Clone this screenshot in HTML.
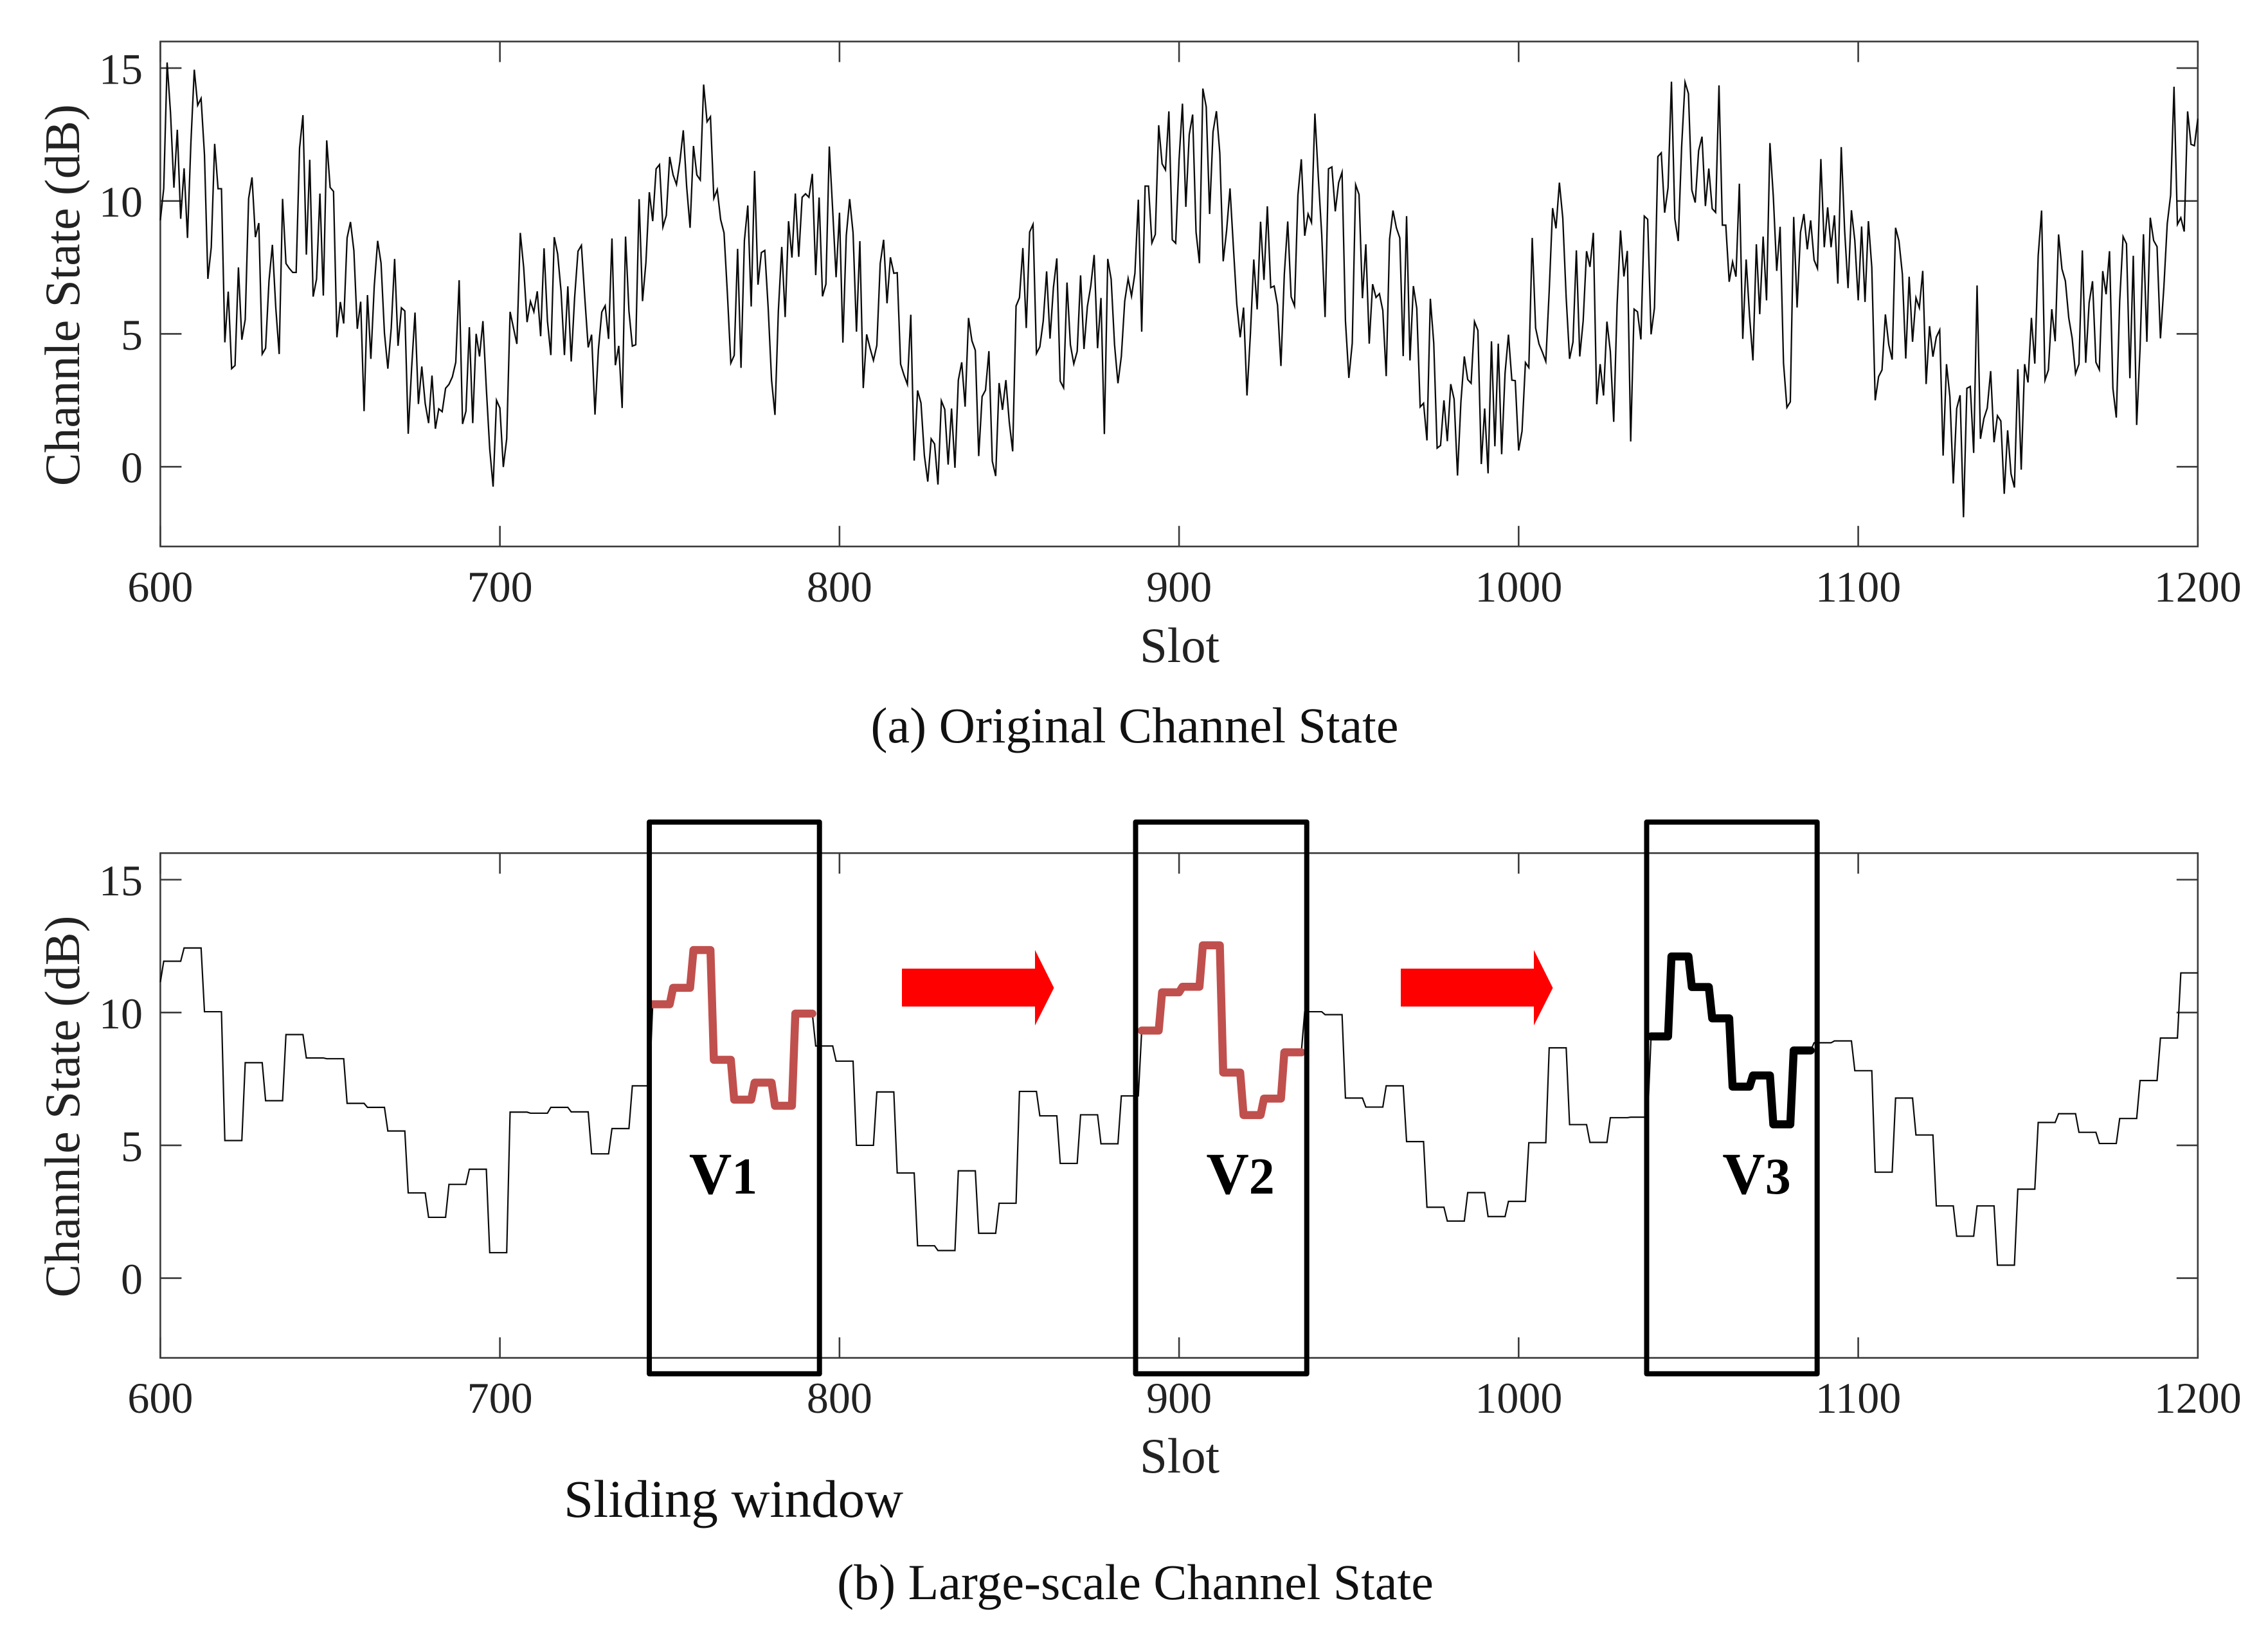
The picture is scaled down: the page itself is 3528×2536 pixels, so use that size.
<!DOCTYPE html>
<html lang="en">
<head>
<meta charset="utf-8">
<title>Channel State Charts</title>
<style>
html,body{margin:0;padding:0;background:#fff;}
svg{display:block;}
text{font-family:"Liberation Serif","Times New Roman",serif;fill:#222;}
</style>
</head>
<body>
<svg id="figure" xmlns="http://www.w3.org/2000/svg" width="3528" height="2536" viewBox="0 0 3528 2536">
  <rect x="0" y="0" width="3528" height="2536" fill="#fff"/>
  <g id="panel-a"></g>
  <g id="panel-b"></g>
  <g id="overlay"></g>
  <text x="1765" y="1155" font-size="78" text-anchor="middle" style="fill:#111">(a) Original Channel State</text>
  <text x="877" y="2360" font-size="83" style="fill:#111">Sliding window</text>
  <text x="1766" y="2488" font-size="78" text-anchor="middle" style="fill:#111">(b) Large-scale Channel State</text>
</svg>
<script>
const xTicks = [600,700,800,900,1000,1100,1200];
const yTicks = [0,5,10,15];
const xDomain = [600,1200];
const yDomain = [-3,16];
const startSlot = 600;
const blockSlots = 6;
const seriesOriginal = [
9.27,10.47,15.21,13.32,10.50,12.68,9.33,11.23,8.61,12.18,14.94,13.60,13.86,11.74,7.07,8.26,12.15,10.46,10.46,4.68,
6.59,3.69,3.81,7.50,4.78,5.54,10.09,10.89,8.64,9.17,4.24,4.46,6.99,8.35,5.98,4.24,10.08,7.65,7.46,7.31,
7.31,11.99,13.23,7.98,11.55,6.40,7.06,10.28,6.44,12.28,10.51,10.36,4.87,6.20,5.39,8.61,9.21,8.13,5.19,6.21,
2.09,6.46,4.06,6.80,8.50,7.66,5.03,3.69,5.22,7.82,4.55,5.98,5.86,1.24,3.71,5.80,2.36,3.77,2.38,1.64,
3.43,1.43,2.18,2.07,2.95,3.10,3.38,3.93,7.02,1.61,2.09,5.25,1.64,5.00,4.15,5.48,2.95,0.67,-0.75,2.50,
2.21,-0.01,1.05,5.83,5.22,4.62,8.80,7.50,5.44,6.22,5.83,6.60,4.91,8.22,5.48,4.20,8.64,8.01,6.61,4.20,
6.79,3.96,6.36,8.11,8.33,6.36,4.49,4.97,1.96,4.40,5.82,6.06,4.81,8.59,3.82,4.55,2.21,8.66,5.86,4.54,
4.59,10.07,6.23,7.69,10.33,9.24,11.21,11.37,9.02,9.46,11.66,10.98,10.62,11.48,12.66,10.53,8.99,12.07,10.98,10.79,
14.38,12.98,13.17,10.10,10.43,9.30,8.80,6.49,3.90,4.19,8.20,3.72,8.51,9.83,6.03,11.13,6.85,8.06,8.14,5.98,
3.26,1.95,5.86,8.27,5.63,9.24,7.87,10.28,7.90,10.14,10.27,10.14,11.02,7.21,10.13,6.41,6.87,12.05,9.65,7.13,
9.56,4.67,8.70,10.07,8.80,5.08,8.49,2.96,4.98,4.46,4.00,4.57,7.65,8.54,6.15,7.88,7.28,7.30,3.86,3.45,
3.10,5.72,0.23,2.87,2.40,0.42,-0.56,1.05,0.86,-0.67,2.48,2.16,0.08,2.19,-0.04,3.26,3.93,2.26,5.60,4.74,
4.38,0.40,2.64,2.88,4.35,0.21,-0.35,3.15,2.14,3.26,1.68,0.58,6.05,6.36,8.23,5.22,8.83,9.12,4.26,4.51,
5.48,7.35,4.82,6.74,7.84,3.22,2.97,6.93,4.59,3.87,4.34,7.20,4.43,6.03,6.80,7.97,4.46,6.35,1.23,7.82,
7.06,4.59,3.14,4.15,6.23,7.08,6.42,7.28,10.05,5.08,10.56,10.56,8.42,8.74,12.85,11.40,11.17,13.37,8.54,8.41,
11.55,13.66,9.78,12.50,13.25,8.83,7.66,14.23,13.54,9.51,12.60,13.38,11.80,7.73,8.89,10.47,8.26,6.11,4.87,5.99,
2.68,4.97,7.80,5.92,9.22,7.03,9.80,6.74,6.80,6.08,3.79,7.25,9.23,6.39,6.05,10.22,11.57,8.69,9.51,9.19,
13.29,10.91,8.76,5.63,11.21,11.28,9.61,10.69,11.08,5.48,3.34,4.65,10.61,10.24,6.34,8.37,4.63,6.87,6.37,6.51,
5.88,3.41,8.57,9.64,8.99,8.61,4.16,9.43,4.00,6.80,5.96,2.25,2.39,0.99,6.32,4.65,0.70,0.80,2.50,0.96,
3.11,2.54,-0.33,2.44,4.15,3.28,3.14,5.46,5.13,0.10,2.19,-0.25,4.72,0.77,4.63,0.47,3.52,4.97,3.26,3.24,
0.61,1.34,3.92,3.73,8.61,5.22,4.62,4.31,3.96,6.61,9.73,8.97,10.69,9.36,6.36,4.06,4.69,8.14,4.15,5.48,
8.11,7.52,8.80,2.35,3.86,2.68,5.46,4.34,1.69,6.11,8.89,7.16,8.12,0.95,5.93,5.83,4.79,9.43,9.31,4.98,
5.98,11.67,11.81,9.56,10.50,14.49,9.33,8.49,12.05,14.47,14.04,10.41,9.94,11.89,12.42,9.81,11.22,9.71,9.57,14.35,
9.09,9.09,6.96,7.71,7.15,10.65,4.81,7.80,5.67,4.00,8.37,5.74,8.66,6.26,12.18,10.16,7.37,9.03,3.90,2.23,
2.44,9.40,5.99,8.82,9.51,8.18,9.27,7.78,7.46,11.58,8.26,9.76,8.26,9.46,6.89,12.03,8.89,6.72,9.65,8.51,
6.26,9.04,6.20,9.24,7.50,2.50,3.39,3.64,5.73,4.59,4.03,8.99,8.49,7.25,4.07,7.15,4.70,6.36,5.98,7.37,
3.11,5.29,4.14,4.88,5.15,0.42,3.86,2.63,-0.63,2.19,2.69,-1.90,2.95,3.02,0.52,6.82,1.05,1.81,2.21,3.60,
0.92,1.92,1.72,-1.02,1.37,-0.27,-0.78,3.67,-0.11,3.86,3.17,5.60,3.88,7.94,9.64,3.26,3.64,5.93,4.72,8.74,
7.44,6.99,5.60,4.84,3.50,3.86,8.14,3.91,6.17,6.98,3.93,3.65,7.36,6.49,8.11,2.95,1.85,6.23,8.66,8.39,
3.33,7.94,1.57,4.46,8.75,4.70,9.37,8.51,8.28,4.83,6.74,9.14,10.22,14.30,9.12,9.37,8.85,13.37,12.13,12.08,
13.10
];
const initialLargeScale = 11.14;
const seriesLargeScale = [
11.93,12.43,10.03,5.18,8.11,6.68,9.17,8.29,8.26,6.58,
6.43,5.54,3.21,2.29,3.53,4.10,0.96,6.25,6.21,6.43,
6.26,4.68,5.63,7.24,10.31,10.93,12.35,8.22,6.72,7.36,
6.49,9.96,8.74,8.17,5.00,7.01,3.96,1.22,1.04,4.04,
1.69,2.82,7.03,6.11,4.32,6.15,5.06,6.86,9.32,10.76,
10.97,12.53,7.74,6.14,6.76,8.50,10.03,9.92,6.78,6.44,
7.24,5.14,2.67,2.15,3.22,2.32,2.89,5.10,8.67,5.78,
5.11,6.04,6.06,9.10,12.11,10.96,9.78,7.21,7.63,5.79,
8.57,8.86,8.93,7.81,3.99,6.78,5.39,2.72,1.58,2.72,
0.49,3.35,5.86,6.19,5.49,5.07,6.01,7.44,9.04,11.49
];
const windowNames = ["V1","V2","V3"];
const windowFirstBlock = [24,48,73];
const windowBlockCount = 8;
const windowSlotStart = [744,887.2,1037.7];
const windowSlotEnd = [794.1,937.6,1087.9];
const windowLabelSlot = [755.7,908,1060];
const windowColors = ["#c0504d","#c0504d","#000000"];
const NS = "http://www.w3.org/2000/svg";

function scaleLinear(domain, range) {
  return function (v) {
    return range[0] + (v - domain[0]) * (range[1] - range[0]) / (domain[1] - domain[0]);
  };
}
const axisLeft = 249.4, axisRight = 3418.8;
const xScale = scaleLinear(xDomain, [axisLeft, axisRight]);
const panelA = { top: 64.6, bottom: 850.2, xLabelY: 936, slotY: 1030 };
const panelB = { top: 1327.3, bottom: 2112.6, xLabelY: 2198, slotY: 2291 };

function mk(tag, attrs, parent) {
  const el = document.createElementNS(NS, tag);
  for (const k in attrs) el.setAttribute(k, attrs[k]);
  parent.appendChild(el);
  return el;
}

function drawAxes(group, box, yScale, prefix) {
  const frame = mk('rect', { x: axisLeft, y: box.top, width: axisRight - axisLeft, height: box.bottom - box.top, fill: 'none', stroke: '#3a3a3a', 'stroke-width': 2.6 }, group);
  
  
  xTicks.forEach(function (t) {
    const x = xScale(t);
    const low = mk('line', { x1: x, x2: x, y1: box.bottom, y2: box.bottom - 32, stroke: '#3a3a3a', 'stroke-width': 2.6 }, group);
    
    
    const high = mk('line', { x1: x, x2: x, y1: box.top, y2: box.top + 32, stroke: '#3a3a3a', 'stroke-width': 2.6 }, group);
    
    
    const label = mk('text', { x: x, y: box.xLabelY, 'font-size': 68, 'text-anchor': 'middle' }, group);
    
    
    label.textContent = String(t);
  });
  yTicks.forEach(function (t) {
    const y = yScale(t);
    const left = mk('line', { x1: axisLeft, x2: axisLeft + 33, y1: y, y2: y, stroke: '#3a3a3a', 'stroke-width': 2.6 }, group);
    
    
    const right = mk('line', { x1: axisRight, x2: axisRight - 33, y1: y, y2: y, stroke: '#3a3a3a', 'stroke-width': 2.6 }, group);
    
    
    const label = mk('text', { x: 222, y: y + 24.5, 'font-size': 68, 'text-anchor': 'end' }, group);
    
    
    label.textContent = String(t);
  });
  const midY = (yScale(15) + yScale(0)) / 2 + 43;
  const yTitle = mk('text', { x: 0, y: 0, 'font-size': 77.5, 'text-anchor': 'middle', transform: 'translate(123 ' + midY + ') rotate(-90)' }, group);
  
  
  yTitle.textContent = 'Channle State (dB)';
  const xTitle = mk('text', { x: 1835, y: box.slotY, 'font-size': 77, 'text-anchor': 'middle' }, group);
  
  
  xTitle.textContent = 'Slot';
}

function toPath(points) {
  return points.map(function (p, i) {
    return (i ? 'L' : 'M') + p[0].toFixed(2) + ' ' + p[1].toFixed(2);
  }).join('');
}

/* panel a */
const yScaleA = scaleLinear(yDomain, [panelA.bottom, panelA.top]);
const groupA = document.getElementById('panel-a');
drawAxes(groupA, panelA, yScaleA, 'original');
const ptsA = seriesOriginal.map(function (v, i) { return [xScale(startSlot + i), yScaleA(v)]; });
const lineA = mk('path', { d: toPath(ptsA), fill: 'none', stroke: '#0a0a0a', 'stroke-width': 2.3, 'stroke-linejoin': 'miter', 'stroke-miterlimit': 6 }, groupA);



/* panel b */
const yScaleB = scaleLinear(yDomain, [panelB.bottom, panelB.top]);
const groupB = document.getElementById('panel-b');
drawAxes(groupB, panelB, yScaleB, 'large-scale');
function blockPoints(first, count) {
  const pts = [];
  for (let k = first; k < first + count; k++) {
    const s0 = startSlot + 1 + k * blockSlots;
    pts.push([xScale(s0), yScaleB(seriesLargeScale[k])]);
    pts.push([xScale(s0 + blockSlots - 1), yScaleB(seriesLargeScale[k])]);
  }
  return pts;
}
const ptsB = [[xScale(startSlot), yScaleB(initialLargeScale)]].concat(blockPoints(0, seriesLargeScale.length));
const lineB = mk('path', { d: toPath(ptsB), fill: 'none', stroke: '#0a0a0a', 'stroke-width': 2.2, 'stroke-linejoin': 'miter' }, groupB);



/* sliding windows */
const overlay = document.getElementById('overlay');
const boxTopValue = 17.17, boxBottomValue = -3.6;
windowNames.forEach(function (name, i) {
  const hl = mk('path', { d: toPath(blockPoints(windowFirstBlock[i], windowBlockCount)), fill: 'none', stroke: windowColors[i], 'stroke-width': 12.5, 'stroke-linecap': 'round', 'stroke-linejoin': 'round' }, overlay);
  
  
  const x0 = xScale(windowSlotStart[i]), x1 = xScale(windowSlotEnd[i]);
  const yT = yScaleB(boxTopValue), yB = yScaleB(boxBottomValue);
  const box = mk('rect', { x: x0, y: yT, width: x1 - x0, height: yB - yT, fill: 'none', stroke: '#000', 'stroke-width': 8, 'stroke-linejoin': 'round' }, overlay);
  
  
  const label = mk('text', { x: xScale(windowLabelSlot[i]), y: 1857, 'font-weight': 'bold', 'font-size': 92 }, overlay);
  
  
  label.style.fill = '#000';
  const v = mk('tspan', {}, label);
  v.textContent = name.charAt(0);
  const n = mk('tspan', { 'font-size': 80 }, label);
  n.textContent = name.charAt(1);
});

/* arrows between windows */
[1403, 2179].forEach(function (ax, i) {
  const pts = [[ax,1507],[ax+207,1507],[ax+207,1478],[ax+236.5,1537],[ax+207,1595.5],[ax+207,1566],[ax,1566]];
  const arrow = mk('polygon', { points: pts.map(function (p) { return p.join(','); }).join(' '), fill: '#ff0000' }, overlay);
  
  
});
</script>
</body>
</html>
